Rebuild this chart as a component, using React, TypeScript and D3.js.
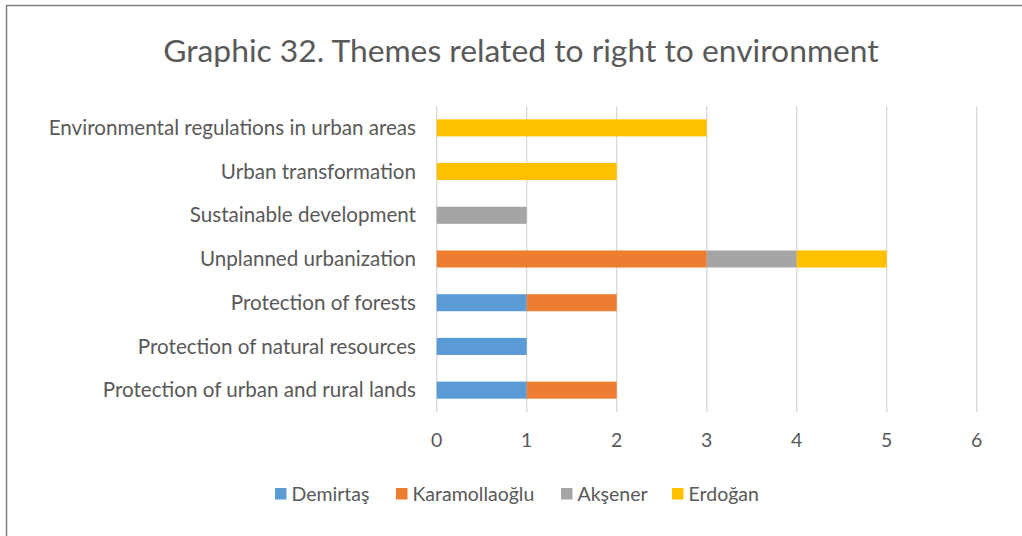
import React from "react";
import * as d3 from "d3";

const categories = [
  "Environmental regulations in urban areas",
  "Urban transformation",
  "Sustainable development",
  "Unplanned urbanization",
  "Protection of forests",
  "Protection of natural resources",
  "Protection of urban and rural lands",
];
const seriesNames = ["Demirtaş", "Karamollaoğlu", "Akşener", "Erdoğan"];
const demirtas = [0, 0, 0, 0, 1, 1, 1];
const karamollaoglu = [0, 0, 0, 3, 1, 0, 1];
const aksener = [0, 0, 1, 1, 0, 0, 0];
const erdogan = [3, 2, 0, 1, 0, 0, 0];
const xTicks = [0, 1, 2, 3, 4, 5, 6];
const colors = ["#5B9BD5", "#ED7D31", "#A5A5A5", "#FFC000"];
const title = "Graphic 32. Themes related to right to environment";

export default function App() {
  const W = 1022, H = 536;
  const font = "Lato, 'Open Sans', sans-serif";
  const x = d3.scaleLinear().domain([0, 6]).range([436.7, 976.7]);
  const y = d3.scaleBand<string>().domain(categories).range([106, 412]).paddingInner(0.61).paddingOuter(0.305);
  const rows = categories.map((c, i) => ({
    cat: c,
    [seriesNames[0]]: demirtas[i],
    [seriesNames[1]]: karamollaoglu[i],
    [seriesNames[2]]: aksener[i],
    [seriesNames[3]]: erdogan[i],
  }));
  const stacked = d3.stack<any>().keys(seriesNames)(rows);
  const legendX = [275, 396, 561, 672];
  return (
    <svg width={W} height={H} style={{ position: "absolute", left: 0, top: 0, background: "#fff" }}>
      <rect x={0} y={0} width={W} height={H} fill="#fff" />
      <line x1={6} y1={5.5} x2={W} y2={5.5} stroke="#7f7f7f" strokeWidth={1.5} />
      <line x1={6.5} y1={5} x2={6.5} y2={H} stroke="#7f7f7f" strokeWidth={1.5} />
      <text x={521} y={62} textAnchor="middle" fontFamily={font} fontSize={31.8} fill="#595959">{title}</text>
      {xTicks.map((t) => (
        <g key={t}>
          <line x1={x(t)} x2={x(t)} y1={106} y2={412} stroke="#D9D9D9" strokeWidth={1.3} />
          <text x={x(t)} y={447} textAnchor="middle" fontFamily={font} fontSize={19.5} fill="#595959">{t}</text>
        </g>
      ))}
      {stacked.map((s, si) => (
        <g key={s.key} fill={colors[si]}>
          {s.map((d, i) =>
            d[1] - d[0] > 0 ? (
              <rect key={i} x={x(d[0])} y={y(categories[i])!} width={x(d[1]) - x(d[0])} height={y.bandwidth()} />
            ) : null
          )}
        </g>
      ))}
      {categories.map((c) => (
        <text key={c} x={416} y={y(c)! + y.bandwidth() / 2} dy="0.35em" textAnchor="end" fontFamily={font} fontSize={20.6} fill="#595959">{c}</text>
      ))}
      {seriesNames.map((n, i) => (
        <g key={n}>
          <rect x={legendX[i]} y={488} width={11.5} height={11.5} fill={colors[i]} />
          <text x={legendX[i] + 16.5} y={494} dy="0.35em" fontFamily={font} fontSize={19.5} fill="#595959">{n}</text>
        </g>
      ))}
    </svg>
  );
}
